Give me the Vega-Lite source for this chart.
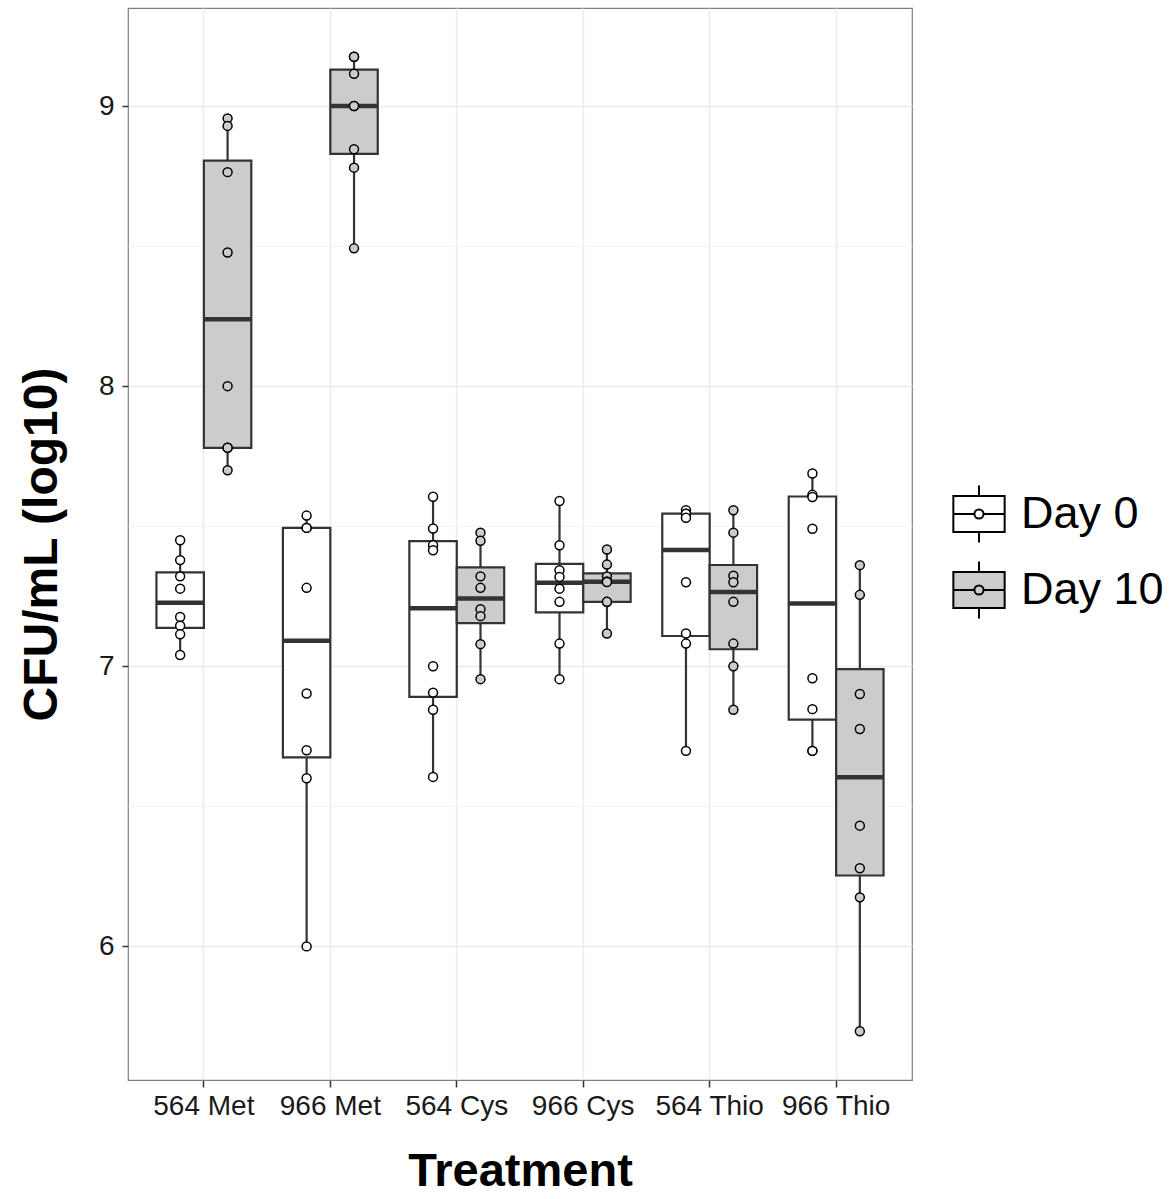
{
  "$schema": "https://vega.github.io/schema/vega-lite/v6.json",
  "width": 784,
  "height": 1072,
  "autosize": {"type": "none"},
  "padding": {"left": 128, "top": 8, "right": 264, "bottom": 119},
  "background": "white",
  "config": {
    "view": {"stroke": "#7f7f7f", "strokeWidth": 1.2},
    "font": "Liberation Sans"
  },
  "data": {
    "values": [
      {"treatment": "564 Met", "day": "Day 0", "cfu": 7.45},
      {"treatment": "564 Met", "day": "Day 0", "cfu": 7.379},
      {"treatment": "564 Met", "day": "Day 0", "cfu": 7.321},
      {"treatment": "564 Met", "day": "Day 0", "cfu": 7.277},
      {"treatment": "564 Met", "day": "Day 0", "cfu": 7.176},
      {"treatment": "564 Met", "day": "Day 0", "cfu": 7.145},
      {"treatment": "564 Met", "day": "Day 0", "cfu": 7.114},
      {"treatment": "564 Met", "day": "Day 0", "cfu": 7.04},
      {"treatment": "564 Met", "day": "Day 10", "cfu": 8.956},
      {"treatment": "564 Met", "day": "Day 10", "cfu": 8.929},
      {"treatment": "564 Met", "day": "Day 10", "cfu": 8.764},
      {"treatment": "564 Met", "day": "Day 10", "cfu": 8.477},
      {"treatment": "564 Met", "day": "Day 10", "cfu": 8.0},
      {"treatment": "564 Met", "day": "Day 10", "cfu": 7.78},
      {"treatment": "564 Met", "day": "Day 10", "cfu": 7.78},
      {"treatment": "564 Met", "day": "Day 10", "cfu": 7.7},
      {"treatment": "966 Met", "day": "Day 0", "cfu": 7.538},
      {"treatment": "966 Met", "day": "Day 0", "cfu": 7.494},
      {"treatment": "966 Met", "day": "Day 0", "cfu": 7.494},
      {"treatment": "966 Met", "day": "Day 0", "cfu": 7.28},
      {"treatment": "966 Met", "day": "Day 0", "cfu": 6.903},
      {"treatment": "966 Met", "day": "Day 0", "cfu": 6.7},
      {"treatment": "966 Met", "day": "Day 0", "cfu": 6.6},
      {"treatment": "966 Met", "day": "Day 0", "cfu": 6.0},
      {"treatment": "966 Met", "day": "Day 10", "cfu": 9.176},
      {"treatment": "966 Met", "day": "Day 10", "cfu": 9.176},
      {"treatment": "966 Met", "day": "Day 10", "cfu": 9.115},
      {"treatment": "966 Met", "day": "Day 10", "cfu": 9.0},
      {"treatment": "966 Met", "day": "Day 10", "cfu": 9.0},
      {"treatment": "966 Met", "day": "Day 10", "cfu": 8.846},
      {"treatment": "966 Met", "day": "Day 10", "cfu": 8.78},
      {"treatment": "966 Met", "day": "Day 10", "cfu": 8.492},
      {"treatment": "564 Cys", "day": "Day 0", "cfu": 7.605},
      {"treatment": "564 Cys", "day": "Day 0", "cfu": 7.492},
      {"treatment": "564 Cys", "day": "Day 0", "cfu": 7.432},
      {"treatment": "564 Cys", "day": "Day 0", "cfu": 7.414},
      {"treatment": "564 Cys", "day": "Day 0", "cfu": 7.0},
      {"treatment": "564 Cys", "day": "Day 0", "cfu": 6.906},
      {"treatment": "564 Cys", "day": "Day 0", "cfu": 6.845},
      {"treatment": "564 Cys", "day": "Day 0", "cfu": 6.605},
      {"treatment": "564 Cys", "day": "Day 10", "cfu": 7.477},
      {"treatment": "564 Cys", "day": "Day 10", "cfu": 7.448},
      {"treatment": "564 Cys", "day": "Day 10", "cfu": 7.321},
      {"treatment": "564 Cys", "day": "Day 10", "cfu": 7.28},
      {"treatment": "564 Cys", "day": "Day 10", "cfu": 7.204},
      {"treatment": "564 Cys", "day": "Day 10", "cfu": 7.179},
      {"treatment": "564 Cys", "day": "Day 10", "cfu": 7.079},
      {"treatment": "564 Cys", "day": "Day 10", "cfu": 6.954},
      {"treatment": "966 Cys", "day": "Day 0", "cfu": 7.59},
      {"treatment": "966 Cys", "day": "Day 0", "cfu": 7.432},
      {"treatment": "966 Cys", "day": "Day 0", "cfu": 7.343},
      {"treatment": "966 Cys", "day": "Day 0", "cfu": 7.319},
      {"treatment": "966 Cys", "day": "Day 0", "cfu": 7.277},
      {"treatment": "966 Cys", "day": "Day 0", "cfu": 7.23},
      {"treatment": "966 Cys", "day": "Day 0", "cfu": 7.081},
      {"treatment": "966 Cys", "day": "Day 0", "cfu": 6.954},
      {"treatment": "966 Cys", "day": "Day 10", "cfu": 7.417},
      {"treatment": "966 Cys", "day": "Day 10", "cfu": 7.363},
      {"treatment": "966 Cys", "day": "Day 10", "cfu": 7.321},
      {"treatment": "966 Cys", "day": "Day 10", "cfu": 7.303},
      {"treatment": "966 Cys", "day": "Day 10", "cfu": 7.301},
      {"treatment": "966 Cys", "day": "Day 10", "cfu": 7.23},
      {"treatment": "966 Cys", "day": "Day 10", "cfu": 7.23},
      {"treatment": "966 Cys", "day": "Day 10", "cfu": 7.117},
      {"treatment": "564 Thio", "day": "Day 0", "cfu": 7.557},
      {"treatment": "564 Thio", "day": "Day 0", "cfu": 7.545},
      {"treatment": "564 Thio", "day": "Day 0", "cfu": 7.545},
      {"treatment": "564 Thio", "day": "Day 0", "cfu": 7.53},
      {"treatment": "564 Thio", "day": "Day 0", "cfu": 7.3},
      {"treatment": "564 Thio", "day": "Day 0", "cfu": 7.117},
      {"treatment": "564 Thio", "day": "Day 0", "cfu": 7.081},
      {"treatment": "564 Thio", "day": "Day 0", "cfu": 6.698},
      {"treatment": "564 Thio", "day": "Day 10", "cfu": 7.557},
      {"treatment": "564 Thio", "day": "Day 10", "cfu": 7.477},
      {"treatment": "564 Thio", "day": "Day 10", "cfu": 7.323},
      {"treatment": "564 Thio", "day": "Day 10", "cfu": 7.3},
      {"treatment": "564 Thio", "day": "Day 10", "cfu": 7.23},
      {"treatment": "564 Thio", "day": "Day 10", "cfu": 7.081},
      {"treatment": "564 Thio", "day": "Day 10", "cfu": 7.0},
      {"treatment": "564 Thio", "day": "Day 10", "cfu": 6.845},
      {"treatment": "966 Thio", "day": "Day 0", "cfu": 7.688},
      {"treatment": "966 Thio", "day": "Day 0", "cfu": 7.612},
      {"treatment": "966 Thio", "day": "Day 0", "cfu": 7.604},
      {"treatment": "966 Thio", "day": "Day 0", "cfu": 7.491},
      {"treatment": "966 Thio", "day": "Day 0", "cfu": 6.957},
      {"treatment": "966 Thio", "day": "Day 0", "cfu": 6.847},
      {"treatment": "966 Thio", "day": "Day 0", "cfu": 6.698},
      {"treatment": "966 Thio", "day": "Day 0", "cfu": 6.698},
      {"treatment": "966 Thio", "day": "Day 10", "cfu": 7.361},
      {"treatment": "966 Thio", "day": "Day 10", "cfu": 7.255},
      {"treatment": "966 Thio", "day": "Day 10", "cfu": 6.901},
      {"treatment": "966 Thio", "day": "Day 10", "cfu": 6.776},
      {"treatment": "966 Thio", "day": "Day 10", "cfu": 6.431},
      {"treatment": "966 Thio", "day": "Day 10", "cfu": 6.279},
      {"treatment": "966 Thio", "day": "Day 10", "cfu": 6.175},
      {"treatment": "966 Thio", "day": "Day 10", "cfu": 5.697}
    ]
  },
  "encoding": {
    "x": {
      "field": "treatment",
      "type": "nominal",
      "sort": ["564 Met", "966 Met", "564 Cys", "966 Cys", "564 Thio", "966 Thio"],
      "scale": {"paddingInner": 0, "paddingOuter": 0.1},
      "axis": {
        "title": "Treatment",
        "titleFont": "Liberation Sans",
        "titleFontSize": 47,
        "titleFontWeight": "bold",
        "titleColor": "#000000",
        "titlePadding": 28,
        "labelFont": "Liberation Sans",
        "labelFontSize": 28,
        "labelColor": "#1a1a1a",
        "labelAngle": 0,
        "labelPadding": 5,
        "tickColor": "#333333",
        "tickSize": 7,
        "tickWidth": 1.5,
        "domain": false,
        "grid": true,
        "gridColor": "#ebebeb",
        "gridWidth": 1.5,
        "bandPosition": 0.5
      }
    },
    "xOffset": {
      "field": "day",
      "type": "nominal",
      "sort": ["Day 0", "Day 10"],
      "scale": {"paddingInner": 0, "paddingOuter": 0.3333}
    }
  },
  "layer": [
    {
      "transform": [
        {
          "aggregate": [
            {"op": "min", "field": "cfu", "as": "lo"},
            {"op": "max", "field": "cfu", "as": "hi"}
          ],
          "groupby": ["treatment", "day"]
        }
      ],
      "mark": {"type": "rule", "color": "#333333", "strokeWidth": 2.2},
      "encoding": {
        "y": {
          "field": "lo",
          "type": "quantitative",
          "scale": {"domain": [5.523, 9.35], "nice": false, "zero": false},
          "axis": {
            "orient": "left",
            "title": "CFU/mL (log10)",
            "titleFont": "Liberation Sans",
            "titleFontSize": 48,
            "titleFontWeight": "bold",
            "titleColor": "#000000",
            "titlePadding": 32,
            "values": [6, 7, 8, 9],
            "labelFont": "Liberation Sans",
            "labelFontSize": 28,
            "labelColor": "#1a1a1a",
            "labelPadding": 8,
            "tickColor": "#333333",
            "tickSize": 6,
            "tickWidth": 1.5,
            "domain": false,
            "grid": true,
            "gridColor": "#ebebeb",
            "gridWidth": 1.5
          }
        },
        "y2": {"field": "hi"}
      }
    },
    {
      "transform": [
        {
          "aggregate": [
            {"op": "q1", "field": "cfu", "as": "q1"},
            {"op": "q3", "field": "cfu", "as": "q3"}
          ],
          "groupby": ["treatment", "day"]
        }
      ],
      "mark": {"type": "bar", "stroke": "#333333", "strokeWidth": 2.2, "opacity": 1},
      "encoding": {
        "y": {"field": "q1", "type": "quantitative", "axis": null},
        "y2": {"field": "q3"},
        "fill": {
          "field": "day",
          "type": "nominal",
          "scale": {"domain": ["Day 0", "Day 10"], "range": ["#ffffff", "#cccccc"]},
          "legend": {
            "title": null,
            "orient": "none",
            "legendX": 821,
            "legendY": 476,
            "symbolType": "M-0.9,-0.63H0.9V0.63H-0.9Z M-0.9,0H-0.16 M0.16,0H0.9 M0,-0.63V-1 M0,0.63V1 M0.16,0A0.16,0.16 0 1 1 -0.16,0A0.16,0.16 0 1 1 0.16,0Z",
            "symbolSize": 3250,
            "symbolStrokeColor": "#333333",
            "symbolStrokeWidth": 2,
            "symbolOpacity": 1,
            "labelFont": "Liberation Sans",
            "labelFontSize": 45,
            "labelColor": "#000000",
            "labelOffset": 12,
            "rowPadding": 10
          }
        }
      }
    },
    {
      "transform": [
        {
          "aggregate": [{"op": "median", "field": "cfu", "as": "med"}],
          "groupby": ["treatment", "day"]
        }
      ],
      "mark": {"type": "tick", "color": "#333333", "thickness": 4.5, "size": 48, "opacity": 1},
      "encoding": {
        "y": {"field": "med", "type": "quantitative", "axis": null}
      }
    },
    {
      "mark": {"type": "point", "shape": "circle", "filled": true, "stroke": "#000000", "strokeWidth": 1.5, "size": 80, "opacity": 1},
      "encoding": {
        "y": {
          "field": "cfu",
          "type": "quantitative",
          "axis": {
            "orient": "right",
            "title": null,
            "values": [6.5, 7.5, 8.5],
            "labels": false,
            "ticks": false,
            "domain": false,
            "grid": true,
            "gridColor": "#f3f3f3",
            "gridWidth": 1
          }
        },
        "fill": {"field": "day", "type": "nominal"}
      }
    }
  ],
  "resolve": {"axis": {"y": "independent"}}
}
